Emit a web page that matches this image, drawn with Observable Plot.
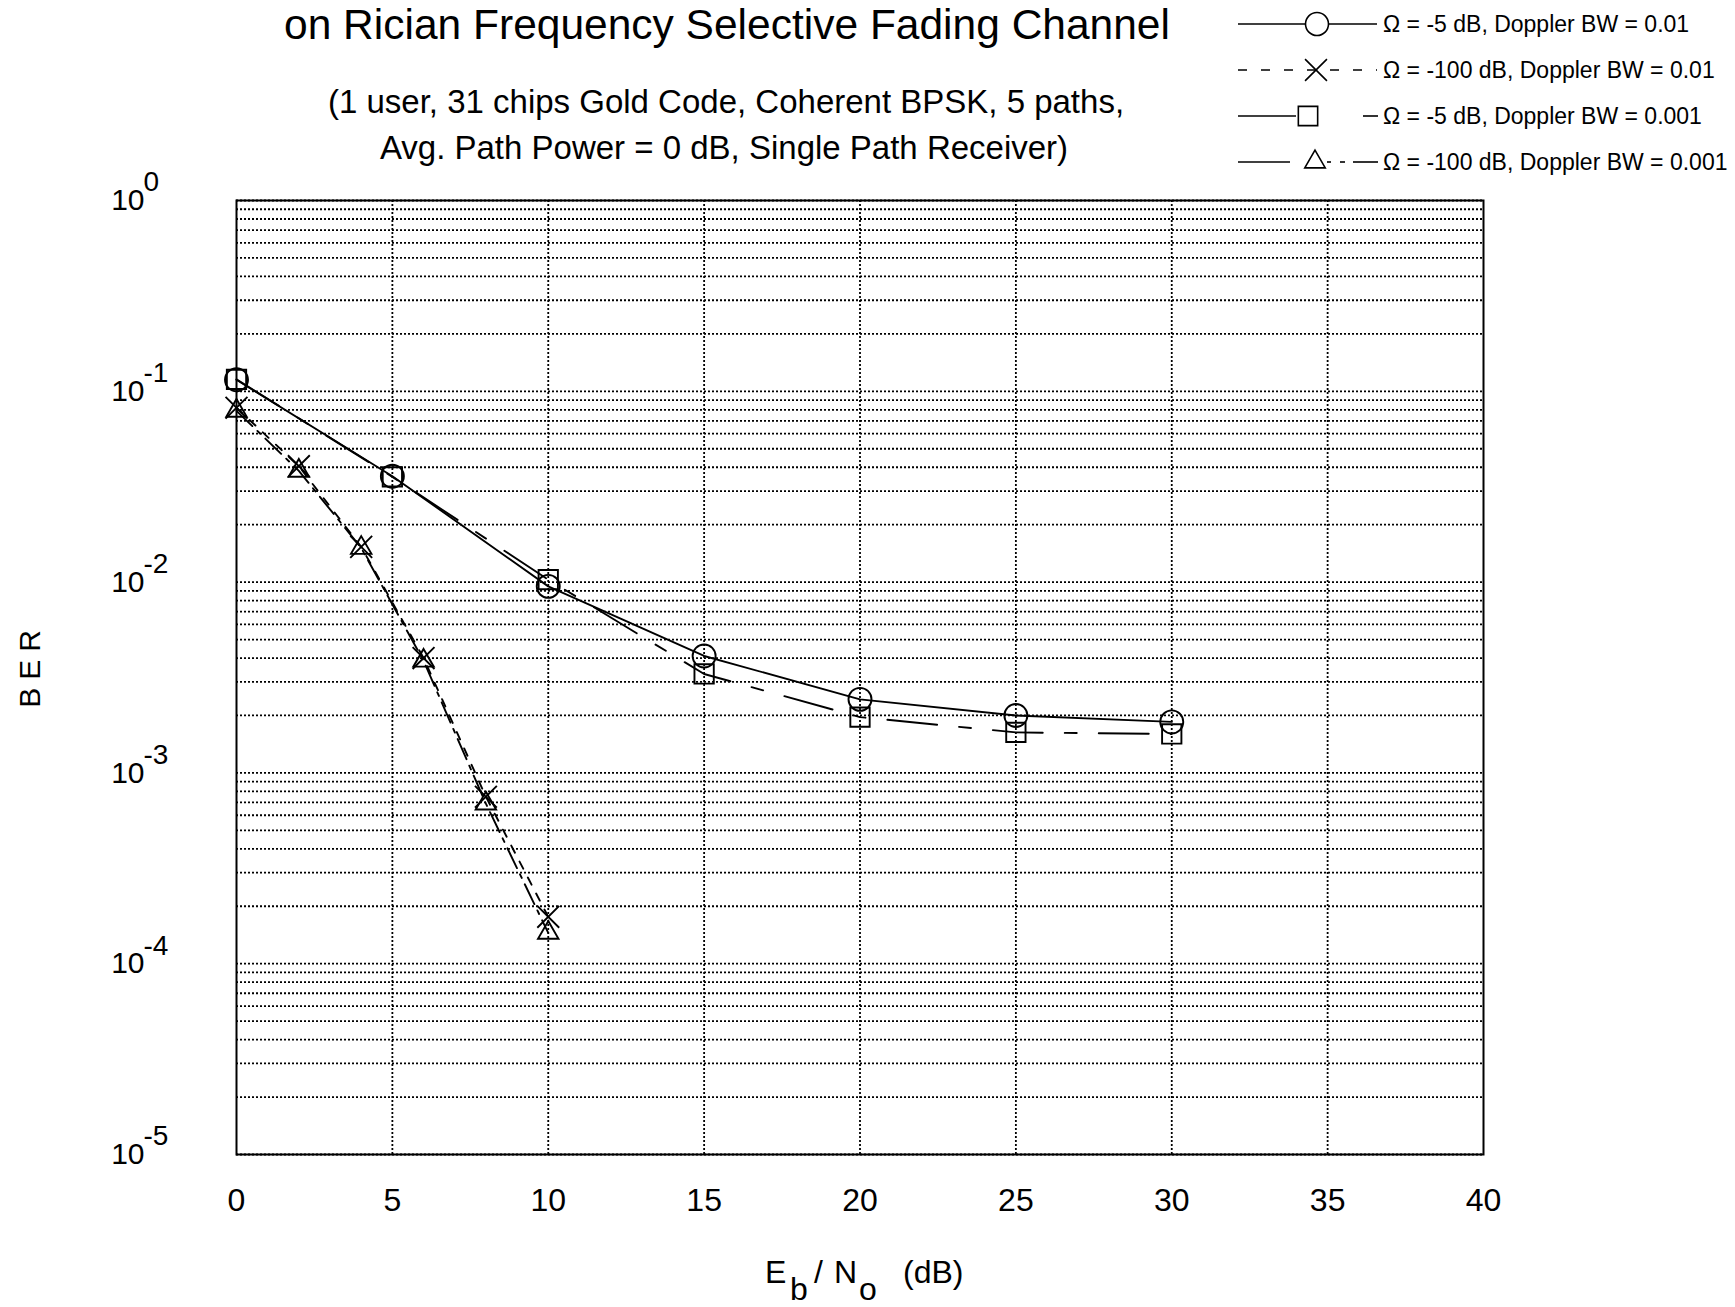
<!DOCTYPE html>
<html><head><meta charset="utf-8">
<script src="https://cdn.jsdelivr.net/npm/d3@7"></script>
<script src="https://cdn.jsdelivr.net/npm/@observablehq/plot@0.6"></script>
<style>
html,body{margin:0;padding:0;background:#fff;}
#wrap{position:relative;width:1735px;height:1307px;overflow:hidden;}
</style></head><body><div id="wrap"></div>
<script>
// ---------- data ----------
const ebnoFull = [0, 5, 10, 15, 20, 25, 30];
const ebnoShort = [0, 2, 4, 6, 8, 10];
const berCircle = [0.115, 0.0359, 0.0095, 0.0041, 0.00243, 0.002, 0.00185];
const berTimes = [0.082, 0.0405, 0.0153, 0.0040, 0.00075, 0.000176];
const berSquare = [0.1155, 0.0356, 0.0103, 0.0033, 0.00196, 0.00163, 0.0016];
const berTriangle = [0.079, 0.0383, 0.0151, 0.00387, 0.00069, 0.000145];
const seriesNames = [
  "\u03A9 = -5 dB, Doppler BW = 0.01",
  "\u03A9 = -100 dB, Doppler BW = 0.01",
  "\u03A9 = -5 dB, Doppler BW = 0.001",
  "\u03A9 = -100 dB, Doppler BW = 0.001"
];
const xTicks = [0, 5, 10, 15, 20, 25, 30, 35, 40];
const yExponents = [0, -1, -2, -3, -4, -5];
const gridMultipliers = [1, 2, 3, 4, 5, 6, 7, 8, 9];
const titleText = "on Rician Frequency Selective Fading Channel";
const subtitleLines = [
  "(1 user, 31 chips Gold Code, Coherent BPSK, 5 paths,",
  "Avg. Path Power = 0 dB, Single Path Receiver)"
];
const yLabel = "BER";

// ---------- build tables ----------
const seriesX = [ebnoFull, ebnoShort, ebnoFull, ebnoShort];
const seriesY = [berCircle, berTimes, berSquare, berTriangle];
const tables = seriesX.map((xs, i) => xs.map((x, j) => ({x, y: seriesY[i][j], s: seriesNames[i]})));
const yDecadeValues = yExponents.map(e => Math.pow(10, e));
const yGridValues = [];
for (const e of yExponents) if (e < 0) for (const m of gridMultipliers) yGridValues.push(m * Math.pow(10, e));
yGridValues.push(1);

// ---------- styles ----------
const W = 1735, H = 1307;
const FL = 236, FR = 1483, FT = 200, FB = 1154;
const FONT = "'Liberation Sans', Arial, Helvetica, sans-serif";
const styles = [
  {symbol: "circle", r: 11.5, dash: null},
  {symbol: "times", r: 10, dash: "8,10"},
  {symbol: "square", r: 10.9, dash: "50,22,12,22"},
  {symbol: "triangle", r: 7.6, dash: "22,7,4,7"}
];
const gridStyle = {stroke: "#000", strokeWidth: 1.8, strokeDasharray: "2,2"};

const marks = [
  Plot.ruleY(yGridValues, gridStyle),
  Plot.ruleX(xTicks.filter(d => d > 0 && d < 40), gridStyle),
  Plot.frame({stroke: "#000", strokeWidth: 2}),
  Plot.axisX({ticks: xTicks, tickSize: 0, tickPadding: 34, fontSize: 32, tickFormat: d => String(d),
              label: null, style: "letter-spacing:6px"}),
  Plot.axisY({ticks: yDecadeValues, tickSize: 0, tickPadding: 92, fontSize: 30, tickFormat: () => "10",
              label: null, style: "letter-spacing:6px"}),
  Plot.axisY({ticks: yDecadeValues, tickSize: 0, tickPadding: 93, fontSize: 28, textAnchor: "start", dy: -18,
              label: null, tickFormat: d => String(Math.round(Math.log10(d)))})
];
styles.forEach((st, i) => {
  marks.push(Plot.line(tables[i], {x: "x", y: "y", stroke: "#000", strokeWidth: 1.9,
    strokeDasharray: st.dash || undefined}));
  marks.push(Plot.dot(tables[i], {x: "x", y: "y", symbol: st.symbol, r: st.r, stroke: "#000",
    strokeWidth: 1.9, fill: "none"}));
});

const svg = Plot.plot({
  width: W, height: H,
  marginLeft: FL, marginRight: W - FR, marginTop: FT, marginBottom: H - FB,
  x: {domain: [0, 40], label: null},
  y: {type: "log", domain: [1e-5, 1], label: null},
  style: {fontFamily: FONT, background: "#fff", color: "#000"},
  marks
});
document.getElementById("wrap").appendChild(svg);

// ---------- text annotations ----------
const S = d3.select(svg);
const g = S.append("g").attr("font-family", FONT).attr("fill", "#000");
g.append("text").attr("x", 727).attr("y", 39).attr("text-anchor", "middle").attr("font-size", 42.5).text(titleText);
g.append("text").attr("x", 726).attr("y", 113).attr("text-anchor", "middle").attr("font-size", 33).text(subtitleLines[0]);
g.append("text").attr("x", 724).attr("y", 159).attr("text-anchor", "middle").attr("font-size", 33).text(subtitleLines[1]);
g.append("text").attr("transform", "translate(40,665) rotate(-90)").attr("text-anchor", "middle")
  .attr("font-size", 30).attr("letter-spacing", "8px").text(yLabel);

// x label  E_b / N_o  (dB)
const xl = g.append("g").attr("font-size", 32).attr("text-anchor", "start");
xl.append("text").attr("x", 765).attr("y", 1283).text("E");
xl.append("text").attr("x", 790).attr("y", 1300).text("b");
xl.append("text").attr("x", 814).attr("y", 1283).text("/");
xl.append("text").attr("x", 834).attr("y", 1283).text("N");
xl.append("text").attr("x", 859).attr("y", 1300).text("o");
xl.append("text").attr("x", 903).attr("y", 1283).text("(dB)");

// ---------- legend ----------
const symMap = {circle: d3.symbolCircle, times: d3.symbolTimes, square: d3.symbolSquare, triangle: d3.symbolTriangle};
const legRows = [24, 70, 116, 162];
const legSym = [1317, 1316, 1308, 1315];
const legSegs = [
  [[1238, 1377, null]],
  [[1238, 1377, "9,14"]],
  [[1238, 1296, null], [1363, 1378, null]],
  [[1238, 1290, null], [1327, 1331, null], [1340, 1345, null], [1353, 1378, null]]
];
const lg = S.append("g");
legRows.forEach((yy, i) => {
  legSegs[i].forEach(([a, b, dash]) => {
    const l = lg.append("line").attr("x1", a).attr("x2", b).attr("y1", yy).attr("y2", yy)
      .attr("stroke", "#000").attr("stroke-width", 1.6);
    if (dash) l.attr("stroke-dasharray", dash);
  });
  const st = styles[i];
  lg.append("path").attr("d", d3.symbol(symMap[st.symbol], Math.PI * st.r * st.r)())
    .attr("transform", `translate(${legSym[i]},${yy})`).attr("fill", i === 0 ? "#fff" : "none")
    .attr("stroke", "#000").attr("stroke-width", 1.6);
  lg.append("text").attr("x", 1383).attr("y", yy + 8).attr("font-family", FONT).attr("font-size", 23)
    .attr("text-anchor", "start").text(seriesNames[i]);
});
</script>
</body></html>
